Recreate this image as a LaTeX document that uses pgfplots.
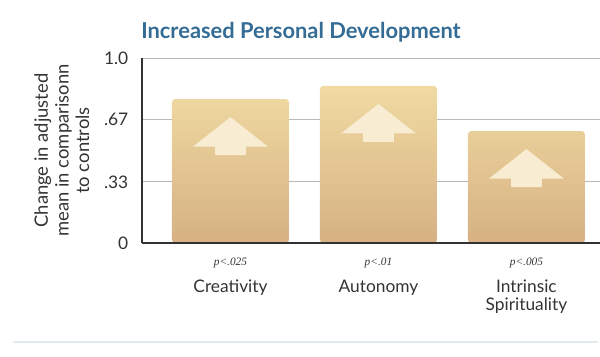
\documentclass[border=0pt]{standalone}
\usepackage{pgfplots}
\pgfplotsset{compat=1.18}
\usepackage{fontspec}
\setmainfont{Lato}
\newfontfamily\pfont{Liberation Serif}
\definecolor{titleblue}{RGB}{52,108,150}
\definecolor{bartop}{RGB}{240,218,162}
\definecolor{barbot}{RGB}{214,177,131}
\definecolor{arrowc}{RGB}{248,236,210}
\definecolor{txt}{RGB}{51,51,51}
\definecolor{sepline}{RGB}{228,235,239}
\pgfdeclareplotmark{uparr}{%
  \pgfpathmoveto{\pgfpoint{0pt}{-13.5pt}}%
  \pgfpathlineto{\pgfpoint{28pt}{-35.6pt}}%
  \pgfpathlineto{\pgfpoint{11.5pt}{-35.6pt}}%
  \pgfpathlineto{\pgfpoint{11.5pt}{-42pt}}%
  \pgfpathlineto{\pgfpoint{-11.5pt}{-42pt}}%
  \pgfpathlineto{\pgfpoint{-11.5pt}{-35.6pt}}%
  \pgfpathlineto{\pgfpoint{-28pt}{-35.6pt}}%
  \pgfpathclose
  \pgfusepathqfill
}
\begin{document}
\begin{tikzpicture}
\path[use as bounding box] (-106.5pt,-85.5pt) rectangle (343.5pt,182.25pt);
\draw[sepline, line width=1.2pt] (-96.75pt,-74.25pt) -- (342pt,-74.25pt);
\node[anchor=west, text=titleblue, font=\fontsize{16.4}{18}\selectfont\bfseries, inner sep=0pt] at (-0.75pt,158.25pt) {Increased Personal Development};
\begin{axis}[
  width=343.5pt, height=138.75pt, scale only axis,
  xmin=-0.598, xmax=2.497, ymin=0, ymax=1,
  axis x line*=bottom, axis y line*=left,
  axis line style={-, draw=txt, line width=0.9pt},
  major tick length=0pt,
  ytick={0,0.33,0.67,1}, yticklabels={0,.33,.67,1.0},
  ymajorgrids, grid style={draw=black!28, line width=0.7pt},
  xtick={0,1,2},
  xticklabels={{\pfont\itshape\fontsize{8.5}{10}\selectfont p<.025}\\[6pt]Creativity,
               {\pfont\itshape\fontsize{8.5}{10}\selectfont p<.01}\\[6pt]Autonomy,
               {\pfont\itshape\fontsize{8.5}{10}\selectfont p<.005}\\[6pt]Intrinsic\\Spirituality},
  xticklabel style={anchor=north, align=center, yshift=-8pt, text=txt, font=\fontsize{13}{13.7}\selectfont},
  yticklabel style={anchor=east, xshift=-6.75pt, text=txt, font=\fontsize{13}{15}\selectfont},
  /pgf/number format/assume math mode=true,
  ylabel={Change in adjusted\\mean in comparisonn\\to controls},
  ylabel style={at={(axis description cs:-0.175,0.5)}, anchor=center, align=center, text=txt, font=\fontsize{13.8}{15.5}\selectfont},
  clip=false,
]
\addplot[ybar, bar width=87.75pt, bar shift=0pt, draw=none, top color=bartop, bottom color=barbot, rounded corners=2.5pt]
  coordinates {(0,0.778) (1,0.849) (2,0.605)};
\addplot[only marks, mark=uparr, mark options={fill=arrowc, draw=none}]
  coordinates {(0,0.778) (1,0.849) (2,0.605)};
\draw[draw=txt, line width=0.9pt] (rel axis cs:0,0) -- (rel axis cs:1,0);
\end{axis}
\end{tikzpicture}
\end{document}
